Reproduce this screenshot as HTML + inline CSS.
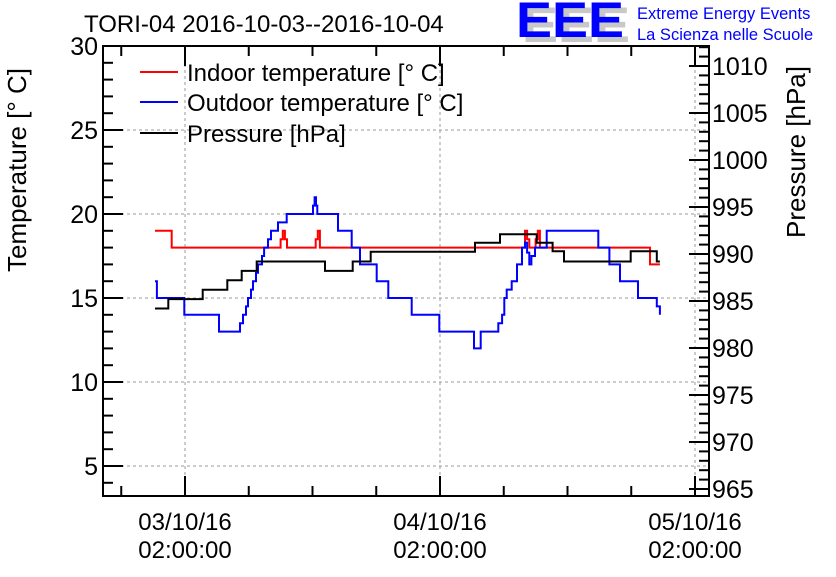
<!DOCTYPE html>
<html><head><meta charset="utf-8"><style>
body{margin:0;background:#fff}
svg text{font-family:"Liberation Sans",sans-serif}
</style></head><body>
<svg width="836" height="572" viewBox="0 0 836 572">
<g id="grid"></g>
<g id="axes"></g>
<g id="series"></g>
<text x="84" y="32" font-size="24">TORI-04 2016-10-03--2016-10-04</text>
<g>
<text x="522" y="42" font-size="50" font-weight="bold" fill="#c8c8c8" textLength="108" lengthAdjust="spacingAndGlyphs">EEE</text>
<text x="516" y="37" font-size="50" font-weight="bold" fill="#0000ff" textLength="108" lengthAdjust="spacingAndGlyphs">EEE</text>
<text x="637" y="19" font-size="16.5" fill="#0000ff">Extreme Energy Events</text>
<text x="637" y="40" font-size="16.5" fill="#0000ff">La Scienza nelle Scuole</text>
</g>
<text transform="translate(26,170) rotate(-90)" text-anchor="middle" font-size="26">Temperature [° C]</text>
<text transform="translate(805,152) rotate(-90)" text-anchor="middle" font-size="26">Pressure [hPa]</text>
<g>
<line x1="140" y1="72" x2="178" y2="72" stroke="#f00" stroke-width="2"/>
<text x="187" y="81" font-size="24">Indoor temperature [° C]</text>
<line x1="140" y1="102" x2="178" y2="102" stroke="#00f" stroke-width="2"/>
<text x="187" y="111" font-size="24">Outdoor temperature [° C]</text>
<line x1="140" y1="133" x2="178" y2="133" stroke="#000" stroke-width="2"/>
<text x="187" y="142" font-size="24">Pressure [hPa]</text>
</g>
</svg>
<script>
// hours since 03/10/16 00:00
const indoorT=[-0.82,0.75,11.0,11.2,11.4,11.6,14.3,14.5,14.7,34.0,34.2,34.4,35.0,35.2,35.4,45.76,46.7];
const indoorV=[19,18,18.5,19,18.5,18,18.5,19,18,19,18.5,18,18.5,19,18,17,17];
const outdoorT=[-0.82,-0.64,1.93,5.2,7.18,7.46,7.74,7.93,8.21,8.4,8.68,8.87,9.25,9.44,9.81,10.09,10.75,11.57,14.05,14.2,14.33,14.45,14.6,16.4,17.69,18.47,20.04,21.13,23.34,25.93,29.2,29.83,31.49,31.84,32.05,32.28,32.75,33.25,33.72,34.0,34.2,34.4,34.6,34.94,36.04,40.9,41.94,42.94,44.64,46.4,46.7];
const outdoorV=[16,15,14,13,13.5,14,14.5,15,15.5,16,16.5,17,17.5,18,18.5,19,19.5,20,20.5,21,20.5,20,20,19,18,17,16,15,14,13,12,13,13.5,14,15,15.5,16,17,18,18.3,17.7,17,17.5,18,19,18,17,16,15,14.5,14];
const pressT=[-0.82,0.43,3.67,5.98,7.34,8.75,15.18,17.78,19.48,29.29,31.65,35.1,36.6,37.67,43.95,46.4,46.7];
const pressV=[984.2,985.2,986.2,987.2,988.2,989.2,988.2,989.2,990.25,991.2,992.1,991.2,990.3,989.2,990.3,989.2,989.2];
const tempTicks=[5,10,15,20,25,30];
const pressTicks=[965,970,975,980,985,990,995,1000,1005,1010];
const dayLabels=["03/10/16","04/10/16","05/10/16"];
const dayHours=[2,26,50];

const L=103,R=709,T=46,B=496;
const xS=h=>185+(h-2)*255/24;
const yT=v=>46+(30-v)*16.8;
const yP=v=>66+(1010-v)*9.4;
const NS='http://www.w3.org/2000/svg';
function mk(tag,attrs,parent){const e=document.createElementNS(NS,tag);for(const k in attrs)e.setAttribute(k,attrs[k]);parent.appendChild(e);return e;}
const grid=document.getElementById('grid'),axes=document.getElementById('axes'),ser=document.getElementById('series');

tempTicks.forEach(v=>{const y=yT(v);
 if(v<30){const g=mk('line',{x1:L,x2:R,y1:y,y2:y,stroke:'#999','stroke-dasharray':'3,3','stroke-width':1},grid);
 
 }
 const t=mk('text',{x:98,y:y+9,'text-anchor':'end','font-size':25},axes);t.textContent=v;
 
 
});
for(let v=4;v<=30;v++){const y=yT(v);if(y>B)continue;const big=v%5==0;
 const tk=mk('line',{x1:L,x2:L+(big?20:10),y1:y,y2:y,stroke:'#000','stroke-width':2},axes);
 
 }
pressTicks.forEach(v=>{const y=yP(v);
 const t=mk('text',{x:712,y:y+9,'font-size':25},axes);t.textContent=v;
 
 });
for(let v=965;v<=1012;v++){const y=yP(v);if(y<T)continue;const big=v%5==0;
 const tk=mk('line',{x1:R,x2:R-(big?20:10),y1:y,y2:y,stroke:'#000','stroke-width':2},axes);
 
 }
dayHours.forEach((h,i)=>{const x=xS(h);
 const g=mk('line',{x1:x,x2:x,y1:T,y2:B,stroke:'#999','stroke-dasharray':'3,3','stroke-width':1},grid);
 
 
 const t1=mk('text',{x:x,y:530,'text-anchor':'middle','font-size':24},axes);t1.textContent=dayLabels[i];
 
 
 const t2=mk('text',{x:x,y:558,'text-anchor':'middle','font-size':24},axes);t2.textContent='02:00:00';
 
 });
for(let h=-4;h<=50;h+=6){const x=xS(h);if(x<L||x>R)continue;const big=(h-2)%24==0;const len=big?20:10;
 const a=mk('line',{x1:x,x2:x,y1:B,y2:B-len,stroke:'#000','stroke-width':2},axes);
 
 
 const b=mk('line',{x1:x,x2:x,y1:T,y2:T+len,stroke:'#000','stroke-width':2},axes);
 
 }
const frame=mk('rect',{x:L,y:T,width:R-L,height:B-T,fill:'none',stroke:'#000','stroke-width':2},axes);



function step(ts,vs,yf){let d='';for(let i=0;i<ts.length;i++){const x=xS(ts[i]).toFixed(1),y=yf(vs[i]).toFixed(1);
 if(i==0)d+='M'+x+','+y;else d+='H'+x+'V'+y;}return d;}
const p1=mk('path',{d:step(indoorT,indoorV,yT),fill:'none',stroke:'#f00','stroke-width':2},ser);


const p2=mk('path',{d:step(outdoorT,outdoorV,yT),fill:'none',stroke:'#00f','stroke-width':2},ser);


const p3=mk('path',{d:step(pressT,pressV,yP),fill:'none',stroke:'#000','stroke-width':2},ser);


</script>
</body></html>
